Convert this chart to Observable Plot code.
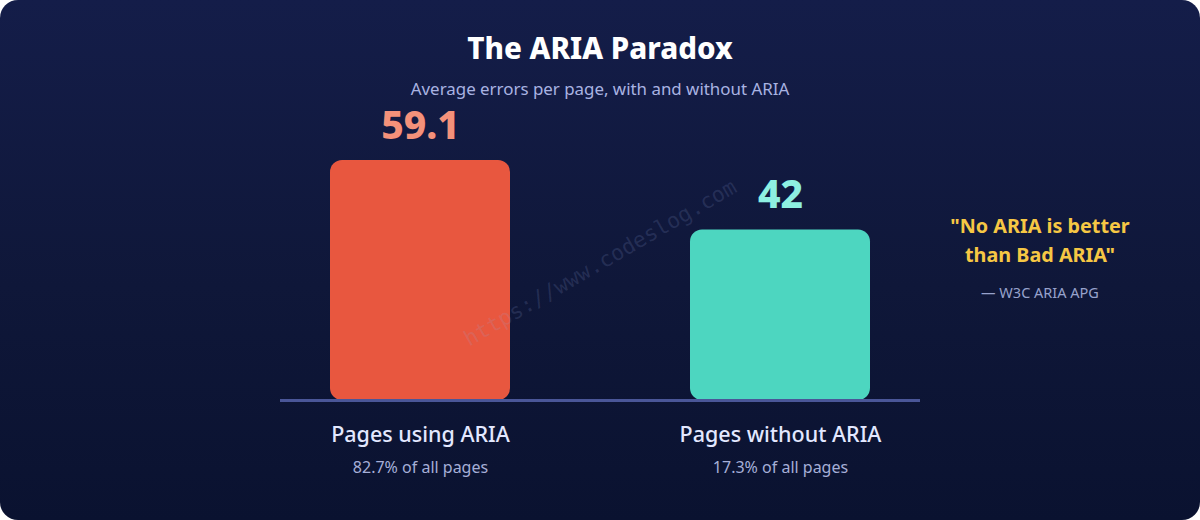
<!DOCTYPE html>
<html>
<head>
<meta charset="utf-8">
<script src="https://cdn.jsdelivr.net/npm/d3@7"></script>
<script src="https://cdn.jsdelivr.net/npm/@observablehq/plot@0.6"></script>
<style>
  html, body { margin: 0; padding: 0; background: #ffffff; }
  #card {
    position: relative; width: 1200px; height: 520px; overflow: hidden;
    border-radius: 18px;
    background: linear-gradient(180deg, #141d49 0%, #0f1739 55%, #0a1230 100%);
    font-family: "Noto Sans", "Open Sans", sans-serif;
  }
  .abs { position: absolute; white-space: nowrap; }
  #title { left: 0; width: 1200px; top: 29px; text-align: center; color: #ffffff;
    font-size: 29.5px; font-weight: 800; line-height: 38px; }
  #subtitle { left: 0; width: 1200px; top: 78px; text-align: center; color: #a9b3e2;
    font-size: 16.9px; line-height: 22px; }
  #chart { left: 0; top: 0; }
  #chart svg { background: transparent; overflow: visible; }
  #quote { left: 940px; width: 200px; top: 211px; text-align: center; color: #f6c744;
    font-size: 19.8px; font-weight: 700; line-height: 29px; }
  #attrib { left: 940px; width: 200px; top: 282px; text-align: center; color: #97a2cc;
    font-size: 14.5px; line-height: 20px; }
  #watermark { left: 440px; top: 250px; width: 320px; text-align: center;
    font-family: "DejaVu Sans Mono", monospace; font-size: 21.5px;
    color: rgba(150, 165, 220, 0.17); transform: rotate(-30deg); transform-origin: 50% 50%; }
</style>
</head>
<body>
<div id="card">
  <div id="chart" class="abs"></div>
  <div id="watermark" class="abs">https://www.codeslog.com</div>
  <div id="title" class="abs"></div>
  <div id="subtitle" class="abs"></div>
  <div id="quote" class="abs"></div>
  <div id="attrib" class="abs"></div>
</div>
<script>
// ---- data ----
const categories = ["Pages using ARIA", "Pages without ARIA"];
const avgErrors = [59.1, 42];
const shareLabels = ["82.7% of all pages", "17.3% of all pages"];
const valueLabels = ["59.1", "42"];
const barColors = ["#e8573f", "#4dd6c0"];
const labelColors = ["#f4917a", "#8ef0e2"];
const titleText = "The ARIA Paradox";
const subtitleText = "Average errors per page, with and without ARIA";
const quoteLines = ["\"No ARIA is better", "than Bad ARIA\""];
const quoteSource = "— W3C ARIA APG";

document.getElementById("title").textContent = titleText;
document.getElementById("subtitle").textContent = subtitleText;
document.getElementById("quote").innerHTML = quoteLines.map(s => s.replace(/&/g,"&amp;").replace(/</g,"&lt;")).join("<br>");
document.getElementById("attrib").textContent = quoteSource;

const rows = categories.map((c, i) => ({
  category: c, value: avgErrors[i], share: shareLabels[i],
  label: valueLabels[i], color: barColors[i], labelColor: labelColors[i]
}));

const pxPerUnit = 240 / 59.1;
const chart = Plot.plot({
  width: 1200,
  height: 520,
  marginLeft: 150,
  marginRight: 150,
  marginTop: 100,
  marginBottom: 120,
  style: { background: "transparent", fontFamily: "'Noto Sans', sans-serif", overflow: "visible" },
  x: { domain: categories, padding: 0.5, axis: null },
  y: { domain: [0, 60], range: [400, 400 - 60 * pxPerUnit], axis: null },
  marks: [
    Plot.barY(rows, { x: "category", y: "value", fill: d => d.color, rx: 12 }),
    Plot.ruleY([0], { stroke: "#4a5698", strokeWidth: 3, insetLeft: 130, insetRight: 130 }),
    Plot.text(rows, { x: "category", y: "value", text: "label", fill: d => d.labelColor,
      fontSize: 39, fontWeight: 800, lineAnchor: "bottom", dy: -22, letterSpacing: -2.5 }),
    Plot.text(rows, { x: "category", y: 0, text: "category", fill: "#e3e8ff",
      fontSize: 21.5, fontWeight: 500, lineAnchor: "bottom", dy: 41 }),
    Plot.text(rows, { x: "category", y: 0, text: "share", fill: "#a6afd8",
      fontSize: 16, lineAnchor: "bottom", dy: 72 })
  ]
});
document.getElementById("chart").appendChild(chart);
</script>
</body>
</html>
